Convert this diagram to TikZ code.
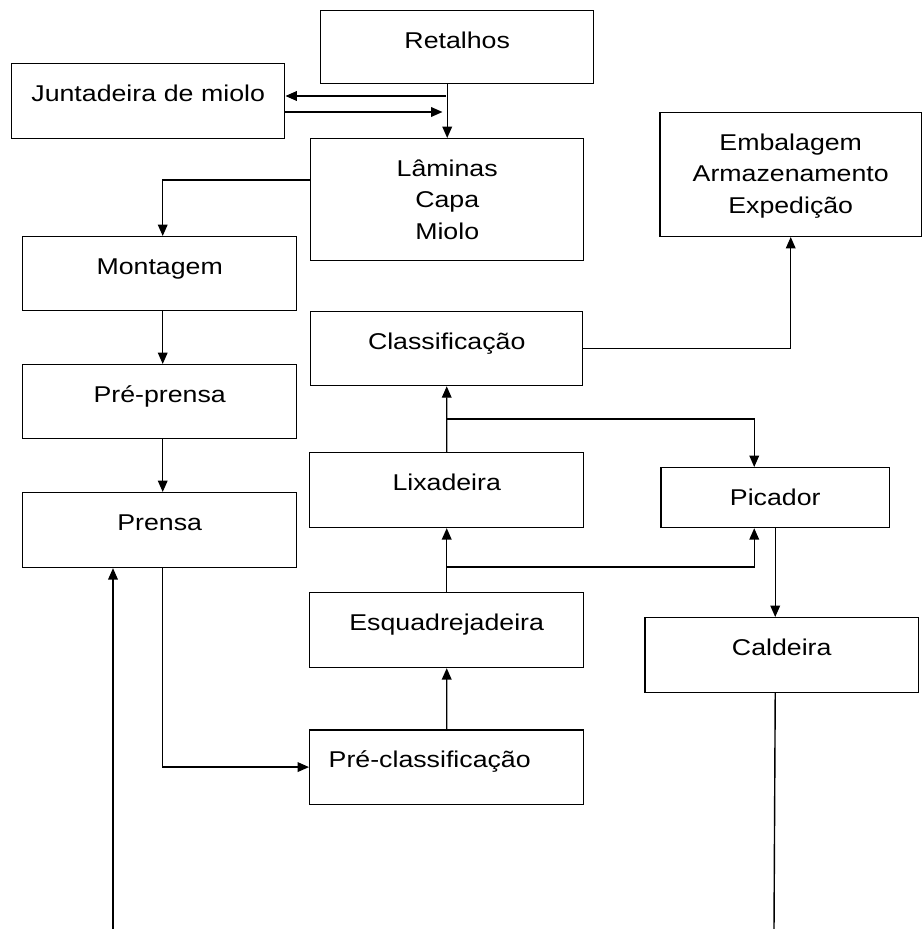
\documentclass[tikz,border=0pt]{standalone}
\usepackage{fontspec}
\setmainfont[FakeStretch=1.17]{Liberation Sans}
\usetikzlibrary{arrows.meta}

\begin{document}
\begin{tikzpicture}[x=0.02cm, y=-0.02cm,
    box/.style={draw, line width=0.85pt, anchor=north west, inner xsep=0pt, inner ysep=12.1pt,
      text height=9.4pt, text depth=8.4pt, align=center, font=\fontsize{13}{17.9}\selectfont},
    arr/.style={line width=0.8pt, -{Triangle[length=6.5pt,width=5.5pt]}},
    line/.style={line width=0.8pt}]
  \useasboundingbox (0,0) rectangle (923,929);
  % boxes
  \node[box, text width=5.46cm, text depth=7.8pt] (ret) at (320,10) {Retalhos};
  \node[box, text width=5.46cm, text depth=8.9pt] (junt) at (11,63) {Juntadeira de miolo};
  \node[box, text width=5.46cm, text depth=35.6pt] (lam) at (310,138) {Lâminas\\Capa\\Miolo};
  \node[box, text width=5.24cm, text depth=36.7pt] (emb) at (659,112) {Embalagem\\Armazenamento\\Expedição};
  \node[box, text width=5.48cm] (mont) at (22,236) {Montagem};
  \node[box, text width=5.44cm] (clas) at (310,311) {Classificação};
  \node[box, text width=5.48cm] (pre) at (22,364) {Pré-prensa};
  \node[box, text width=5.48cm, text depth=8.9pt] (lix) at (309,452) {Lixadeira};
  \node[box, text width=4.58cm, text depth=0.4pt] (pic) at (660,467) {Picador};
  \node[box, text width=5.48cm, text depth=8.9pt] (pren) at (22,492) {Prensa};
  \node[box, text width=5.48cm, text depth=8.9pt] (esq) at (309,592) {Esquadrejadeira};
  \node[box, text width=5.48cm, text depth=8.9pt] (cald) at (644,617) {Caldeira};
  \node[box, text width=4.72cm, inner xsep=0.38cm, align=left, text depth=8.9pt] (precl) at (309,729) {Pré-classificação};
  % free points
  \coordinate (jin) at (446,96);
  \coordinate (jout) at (446,112);
  \coordinate (lamout) at (310,180);
  \coordinate (split1) at (446,419);
  \coordinate (split2) at (446,567);
  \coordinate (prensin) at (113,929);
  \coordinate (caldend) at (774,929);
  % connectors
  \draw[arr] (lam.north |- ret.south) -- (lam.north);
  \draw[arr] (jin) -- (jin -| junt.east);
  \draw[arr] (jout -| junt.east) -- ([xshift=-2pt]jout);
  \draw[arr] (lamout) -| ([xshift=0.06cm]mont.north);
  \draw[arr] ([xshift=0.06cm]mont.south) -- ([xshift=0.06cm]pre.north);
  \draw[arr] ([xshift=0.06cm]pre.south) -- ([xshift=0.06cm]pren.north);
  \draw[arr] ([xshift=0.06cm]pren.south) |- (precl.west);
  \draw[arr] (prensin) -- (prensin |- pren.south);
  \draw[arr] (precl.north) -- (esq.south);
  \draw[arr] (esq.north) -- (lix.south);
  \draw[arr] (split2) -| ([xshift=-0.42cm]pic.south);
  \draw[arr] (lix.north) -- (clas.south);
  \draw[arr] (split1) -| ([xshift=-0.42cm]pic.north);
  \draw[arr] (clas.east) -| (emb.south);
  \draw[arr] (pic.south) -- (pic.south |- cald.north);
  \draw[line] (pic.south |- cald.south) -- (caldend);
\end{tikzpicture}
\end{document}
